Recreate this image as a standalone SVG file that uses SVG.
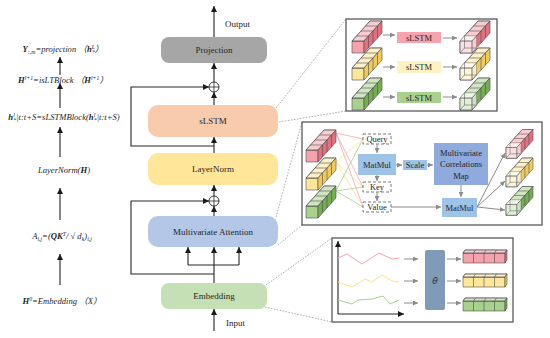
<svg xmlns="http://www.w3.org/2000/svg" width="550" height="338" viewBox="0 0 550 338">
<style>
text{font-family:"Liberation Serif","Times New Roman","Noto Sans CJK SC",serif;fill:#262626}
.lbl{font-size:9px;text-anchor:middle}
.eq{font-size:8.6px;font-style:italic;text-anchor:middle}
.b{font-weight:bold}
.sm{font-size:5.8px}
.conn{fill:none;stroke:#262626;stroke-width:1.1}
.ga{fill:none;stroke:#8c8c8c;stroke-width:1}
.dot{fill:none;stroke:#9a9a9a;stroke-width:0.8;stroke-dasharray:1.6,1.4}
.frame{fill:#fff;stroke:#595959;stroke-width:1.3}
.dash{fill:#fff;stroke:#595959;stroke-width:0.8;stroke-dasharray:3,2}
.rl{stroke:#f4a3ad;stroke-width:0.8;fill:none}
.yl{stroke:#fbe08f;stroke-width:0.8;fill:none}
.gl{stroke:#a9d18e;stroke-width:0.8;fill:none}
</style>
<defs>
<marker id="ah" viewBox="0 0 6 6" refX="6" refY="3" markerWidth="6" markerHeight="6" markerUnits="userSpaceOnUse" orient="auto"><path d="M0,0L6,3L0,6z" fill="#1a1a1a"/></marker>
<marker id="gah" viewBox="0 0 6 6" refX="6" refY="3" markerWidth="5" markerHeight="5" markerUnits="userSpaceOnUse" orient="auto"><path d="M0,0L6,3L0,6z" fill="#8c8c8c"/></marker>
<g id="bar" stroke="#4d4d4d" stroke-width="0.6" stroke-linejoin="round">
<rect width="12" height="12"/>
<polygon points="0,0 12,0 30,-20 18,-20"/>
<polygon points="0,0 12,0 30,-20 18,-20" fill="#fff" fill-opacity="0.45"/>
<polygon points="12,0 12,12 30,-8 30,-20" fill="currentColor"/>
<path fill="none" d="M4.5,-5H16.5V7M9,-10H21V2M13.5,-15H25.5V-3"/>
</g>
<g id="barOut">
<use href="#bar"/>
<polygon points="0,0 4.5,-5 16.5,-5 16.5,7 12,12 0,12" fill="#fff" fill-opacity="0.65" stroke="none"/>
<path d="M0,12L4.5,7H16.5M4.5,7V-5" fill="none" stroke="#4d4d4d" stroke-width="0.5"/>
<path d="M0,0H12V12H0zM12,0L16.5,-5M12,12L16.5,7" fill="none" stroke="#4d4d4d" stroke-width="0.6"/>
</g>
<g id="hbar" stroke="#4d4d4d" stroke-width="0.6" stroke-linejoin="round">
<rect width="42" height="10"/>
<polygon points="0,0 42,0 44,-3 2,-3"/>
<polygon points="0,0 42,0 44,-3 2,-3" fill="#fff" fill-opacity="0.45"/>
<polygon points="42,0 42,10 44,7 44,-3" fill="currentColor"/>
<path fill="none" d="M10.5,0V10M21,0V10M31.5,0V10M10.5,0l2,-3M21,0l2,-3M31.5,0l2,-3"/>
</g>
</defs>
<rect width="550" height="338" fill="#fff"/>

<!-- left equations -->
<g id="equations">
<text class="eq" x="63" y="52"><tspan class="b">Y</tspan><tspan class="sm" dy="1.5">:,m</tspan><tspan dy="-1.5">=projection （</tspan><tspan class="b">h</tspan><tspan class="sm" dy="-3">L</tspan><tspan class="sm" dx="-3" dy="4.5">*</tspan><tspan dy="-1.5">）</tspan></text>
<text class="eq" x="63" y="83"><tspan class="b">H</tspan><tspan class="sm" dy="-3">l+1</tspan><tspan dy="3">=isLTBlock （</tspan><tspan class="b">H</tspan><tspan class="sm" dy="-3">l+1</tspan><tspan dy="3">）</tspan></text>
<text class="eq" x="64" y="120"><tspan class="b">h</tspan><tspan class="sm" dy="-3">l</tspan><tspan class="sm" dx="-1.5" dy="4.5">*</tspan><tspan dy="-1.5">|t:t+S=sLSTMBlock(</tspan><tspan class="b">h</tspan><tspan class="sm" dy="-3">l</tspan><tspan class="sm" dx="-1.5" dy="4.5">*</tspan><tspan dy="-1.5">|t:t+S)</tspan></text>
<text class="eq" x="64" y="173">LayerNorm(<tspan class="b">H</tspan>)</text>
<text class="eq" x="62" y="239"><tspan>A</tspan><tspan class="sm" dy="1.5">i,j</tspan><tspan dy="-1.5">=(</tspan><tspan class="b">QK</tspan><tspan class="sm" dy="-3">T</tspan><tspan dy="3">/ √ d</tspan><tspan class="sm" dy="1.5">k</tspan><tspan dy="-1.5">)</tspan><tspan class="sm" dy="1.5">i,j</tspan></text>
<text class="eq" x="62" y="304"><tspan class="b">H</tspan><tspan class="sm" dy="-3">0</tspan><tspan dy="3">=Embedding （X）</tspan></text>
</g>

<g id="eq-arrows" class="conn">
<path d="M60,75V57" marker-end="url(#ah)"/>
<path d="M60,108V83" marker-end="url(#ah)"/>
<path d="M60,157V127" marker-end="url(#ah)"/>
<path d="M60,220V188" marker-end="url(#ah)"/>
<path d="M60,285V254" marker-end="url(#ah)"/>
</g>

<!-- dotted zoom connectors -->
<g id="zoom-lines">
<path class="dot" d="M276,108L346,19"/>
<path class="dot" d="M279,122L346,111"/>
<path class="dot" d="M276,217L302,122"/>
<path class="dot" d="M278,245L302,225"/>
<path class="dot" d="M266,285L332,238"/>
<path class="dot" d="M265,307L332,322"/>
</g>

<!-- main column nodes -->
<g id="projection"><rect x="161" y="37" width="106" height="26" rx="8" fill="#a6a6a6"/><text class="lbl" x="214" y="53">Projection</text></g>
<g id="slstm"><rect x="148" y="105" width="130" height="32" rx="10" fill="#f8cbad"/><text class="lbl" x="213" y="124">sLSTM</text></g>
<g id="layernorm"><rect x="148" y="153" width="130" height="32" rx="10" fill="#ffe699"/><text class="lbl" x="213" y="172">LayerNorm</text></g>
<g id="attention"><rect x="148" y="216" width="130" height="31" rx="10" fill="#b4c7e7"/><text class="lbl" x="213" y="235">Multivariate Attention</text></g>
<g id="embedding"><rect x="161" y="283" width="106" height="26" rx="8" fill="#c5e0b4"/><text class="lbl" x="214" y="299">Embedding</text></g>
<g id="add1"><circle cx="214" cy="87" r="5" fill="#fff" stroke="#262626" stroke-width="0.9"/><path d="M209,87h10M214,82v10" stroke="#262626" stroke-width="0.8"/></g>
<g id="add2"><circle cx="214" cy="201" r="5" fill="#fff" stroke="#262626" stroke-width="0.9"/><path d="M209,201h10M214,196v10" stroke="#262626" stroke-width="0.8"/></g>
<g id="io">
<text x="225" y="27" style="font-size:9px">Output</text>
<text x="226" y="326" style="font-size:9px">Input</text>
</g>

<g id="connectors" class="conn">
<path d="M214,37V6" marker-end="url(#ah)"/>
<path d="M214,82V63" marker-end="url(#ah)"/>
<path d="M214,105V92" marker-end="url(#ah)"/>
<path d="M214,153V137" marker-end="url(#ah)"/>
<path d="M214,146H131V87H209" marker-end="url(#ah)"/>
<path d="M214,196V185" marker-end="url(#ah)"/>
<path d="M214,216V206" marker-end="url(#ah)"/>
<path d="M214,274H131V201H209" marker-end="url(#ah)"/>
<path d="M214,283V247" marker-end="url(#ah)"/>
<path d="M188,265H239"/>
<path d="M188,265V247" marker-end="url(#ah)"/>
<path d="M239,265V247" marker-end="url(#ah)"/>
<path d="M214,331V309" marker-end="url(#ah)"/>
</g>

<!-- top detail: sLSTM -->
<g id="detail-slstm">
<rect class="frame" x="346" y="19" width="151" height="92"/>
<use href="#bar" x="352" y="41" fill="#f4a3ad" color="#e3707f"/>
<use href="#bar" x="352" y="68" fill="#fde699" color="#f0cb5c"/>
<use href="#bar" x="352" y="98" fill="#a9d18e" color="#74ad52"/>
<use href="#barOut" x="460" y="41" fill="#f4a3ad" color="#e3707f"/>
<use href="#barOut" x="460" y="68" fill="#fde699" color="#f0cb5c"/>
<use href="#barOut" x="460" y="98" fill="#a9d18e" color="#74ad52"/>
<rect x="397" y="32" width="44" height="11" fill="#f5a3ae"/>
<text class="lbl" x="419" y="40.5" style="font-size:8.5px">sLSTM</text>
<rect x="397" y="61" width="44" height="12" fill="#fff2c2"/>
<text class="lbl" x="419" y="70" style="font-size:8.5px">sLSTM</text>
<rect x="397" y="92" width="44" height="11" fill="#a9d18e"/>
<text class="lbl" x="419" y="100.5" style="font-size:8.5px">sLSTM</text>
<path class="ga" d="M383,35H395" marker-end="url(#gah)"/>
<path class="ga" d="M443,38H457" marker-end="url(#gah)"/>
<path class="ga" d="M383,67H395" marker-end="url(#gah)"/>
<path class="ga" d="M443,67H457" marker-end="url(#gah)"/>
<path class="ga" d="M383,97H395" marker-end="url(#gah)"/>
<path class="ga" d="M443,97H457" marker-end="url(#gah)"/>
</g>

<!-- middle detail: attention -->
<g id="detail-attention">
<rect class="frame" x="302" y="122" width="240" height="103"/>
<path class="rl" d="M336,133L363,139M336,133L363,187M336,133L363,207"/>
<path class="yl" d="M336,162L363,139M336,162L363,187M336,162L363,207"/>
<path class="gl" d="M336,191L363,139M336,191L363,187M336,191L363,207"/>
<use href="#bar" x="306" y="150" fill="#f4a3ad" color="#e3707f"/>
<use href="#bar" x="306" y="178" fill="#fde699" color="#f0cb5c"/>
<use href="#bar" x="306" y="206" fill="#a9d18e" color="#74ad52"/>
<g id="query"><rect class="dash" x="363" y="134" width="28" height="10"/><text class="lbl" x="377" y="142" style="font-size:8.5px">Query</text></g>
<g id="key"><rect class="dash" x="363" y="182" width="28" height="10"/><text class="lbl" x="377" y="190" style="font-size:8.5px">Key</text></g>
<g id="value"><rect class="dash" x="363" y="202" width="28" height="10"/><text class="lbl" x="377" y="210" style="font-size:8.5px">Value</text></g>
<g id="matmul1"><rect x="358" y="154" width="38" height="21" fill="#9dc3e6"/><text class="lbl" x="377" y="168" style="font-size:8.5px">MatMul</text></g>
<g id="scale"><rect x="403" y="160" width="24" height="10" fill="#9dc3e6"/><text class="lbl" x="415" y="168" style="font-size:8.5px">Scale</text></g>
<g id="mcm"><rect x="434" y="143" width="54" height="42" fill="#8faadc"/>
<text class="lbl" x="461" y="156" style="font-size:8.5px">Multivariate</text>
<text class="lbl" x="461" y="167" style="font-size:8.5px">Correlations</text>
<text class="lbl" x="461" y="179" style="font-size:8.5px">Map</text></g>
<g id="matmul2"><rect x="442" y="198" width="35" height="19" fill="#9dc3e6"/><text class="lbl" x="459.5" y="210.5" style="font-size:8.5px">MatMul</text></g>
<path class="ga" stroke-width="0.8" d="M377,144V153" marker-end="url(#gah)"/>
<path class="ga" stroke-width="0.8" d="M377,175V181" marker-end="url(#gah)"/>
<path class="ga" stroke-width="0.8" d="M377,192V201" marker-end="url(#gah)"/>
<path class="ga" stroke-width="0.8" d="M396,165H402" marker-end="url(#gah)"/>
<path class="ga" stroke-width="0.8" d="M427,165H433" marker-end="url(#gah)"/>
<path class="ga" stroke-width="0.8" d="M461,185V197" marker-end="url(#gah)"/>
<path class="ga" stroke-width="0.8" d="M391,207H441" marker-end="url(#gah)"/>
<path class="ga" stroke-width="0.8" d="M477,207L505,153" marker-end="url(#gah)"/>
<path class="ga" stroke-width="0.8" d="M477,207L505,181" marker-end="url(#gah)"/>
<path class="ga" stroke-width="0.8" d="M477,207L505,210" marker-end="url(#gah)"/>
<use href="#barOut" transform="translate(506,147.5) scale(0.9)" fill="#f4a3ad" color="#e3707f"/>
<use href="#barOut" transform="translate(506,176) scale(0.9)" fill="#fde699" color="#f0cb5c"/>
<use href="#barOut" transform="translate(506,204.5) scale(0.9)" fill="#a9d18e" color="#74ad52"/>
</g>

<!-- bottom detail: embedding -->
<g id="detail-embedding">
<rect class="frame" x="332" y="238" width="181" height="84"/>
<path class="conn" stroke-width="1" d="M338,314V241" marker-end="url(#ah)"/>
<path class="conn" stroke-width="1" d="M338,314H404" marker-end="url(#ah)"/>
<polyline fill="none" stroke="#f4a3ad" stroke-width="1" points="338,258 347,254 362,264 379,253 392,259 399,258"/>
<polyline fill="none" stroke="#fbe08f" stroke-width="1" points="338,282 352,287 365,279 372,282 382,275 392,281 399,282"/>
<polyline fill="none" stroke="#a9d18e" stroke-width="1" points="338,300 352,304 358,300 372,299 383,296 390,304 399,300"/>
<path class="ga" d="M404,259H418" marker-end="url(#gah)"/>
<path class="ga" d="M404,281H418" marker-end="url(#gah)"/>
<path class="ga" d="M404,303H418" marker-end="url(#gah)"/>
<rect x="425" y="250" width="20" height="60" rx="2" fill="#7f9bb8"/>
<text x="435" y="284" style="font-family:'DejaVu Sans',sans-serif;font-size:9px;font-style:italic;text-anchor:middle;fill:#1f2d3d">θ</text>
<path class="ga" d="M447,259H461" marker-end="url(#gah)"/>
<path class="ga" d="M447,281H461" marker-end="url(#gah)"/>
<path class="ga" d="M447,303H461" marker-end="url(#gah)"/>
<use href="#hbar" x="463" y="253" fill="#f4a3ad" color="#e3707f"/>
<use href="#hbar" x="463" y="277" fill="#fde699" color="#f0cb5c"/>
<use href="#hbar" x="463" y="301" fill="#a9d18e" color="#74ad52"/>
</g>
</svg>
